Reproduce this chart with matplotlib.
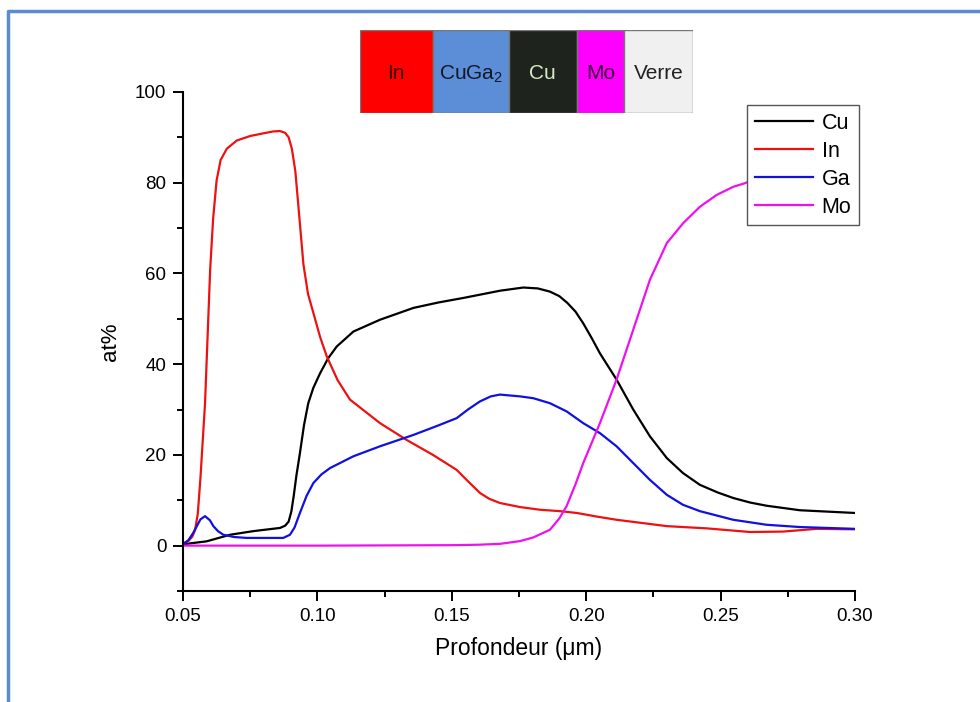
import numpy as np
import matplotlib
matplotlib.use('Agg')
from matplotlib import pyplot as plt
from matplotlib.lines import Line2D

plt.rcParams['font.family'] = ['Liberation Sans', 'DejaVu Sans']
plt.rcParams['mathtext.fontset'] = 'custom'
plt.rcParams['mathtext.rm'] = 'Liberation Sans'

# profils (profondeur en um, at%)
x_cu = [0.050, 0.0588, 0.0675, 0.0762, 0.0861, 0.0880, 0.0893, 0.0903, 0.0912, 0.0922, 0.0935, 0.0950,
        0.0966, 0.0985, 0.1010, 0.1040, 0.1072, 0.1134, 0.1233, 0.1357, 0.1450, 0.1543, 0.1620,
        0.1680, 0.1766, 0.1820, 0.1865, 0.1900, 0.1930, 0.1960, 0.1989, 0.2020, 0.2051, 0.2113,
        0.2175, 0.2237, 0.2300, 0.2360, 0.2423, 0.2490, 0.2547, 0.2610, 0.2671, 0.2795, 0.3000]
cu = [0.3, 0.95, 2.4, 3.2, 3.9, 4.4, 5.3, 7.5, 11.0, 15.5, 20.4, 26.5,
      31.4, 34.8, 38.0, 41.3, 43.9, 47.2, 49.8, 52.4, 53.6, 54.6, 55.5,
      56.2, 56.9, 56.7, 56.0, 55.0, 53.5, 51.6, 49.0, 45.8, 42.4, 36.6,
      30.0, 24.1, 19.3, 16.0, 13.4, 11.7, 10.5, 9.5, 8.8, 7.8, 7.2]

x_in = [0.050, 0.052, 0.0535, 0.0545, 0.0555, 0.0565, 0.0582, 0.0601, 0.0612, 0.0625, 0.0640, 0.0663,
        0.070, 0.075, 0.080, 0.0835, 0.0860, 0.0880, 0.0893, 0.0905, 0.0918, 0.0932, 0.0948, 0.0965,
        0.0985, 0.1010, 0.1035, 0.1075, 0.1121, 0.1233, 0.1332, 0.1430, 0.1518, 0.1560, 0.1605,
        0.1640, 0.1679, 0.1754, 0.1830, 0.1903, 0.1965, 0.2040, 0.2113, 0.2300, 0.2450, 0.2610,
        0.2733, 0.2857, 0.3000]
inn = [0.5, 1.0, 2.0, 3.5, 7.0, 15.0, 31.4, 60.8, 72.0, 80.5, 85.0, 87.5,
       89.3, 90.3, 90.9, 91.3, 91.4, 91.0, 90.0, 87.5, 82.5, 73.0, 62.0, 55.5,
       51.3, 46.0, 41.7, 36.5, 32.2, 27.0, 23.3, 20.0, 16.7, 14.2, 11.6,
       10.3, 9.4, 8.5, 7.9, 7.6, 7.2, 6.4, 5.7, 4.3, 3.8, 3.0,
       3.1, 3.7, 3.6]

x_ga = [0.050, 0.052, 0.0538, 0.0565, 0.0582, 0.0600, 0.0613, 0.0630, 0.0650, 0.0690, 0.0737, 0.0873,
        0.0898, 0.0915, 0.0935, 0.0960, 0.0985, 0.1015, 0.1047, 0.1134, 0.1233, 0.1357, 0.1450,
        0.1518, 0.1560, 0.1605, 0.1645, 0.1679, 0.1754, 0.1803, 0.1865, 0.1927, 0.1989, 0.2051,
        0.2113, 0.2175, 0.2237, 0.2300, 0.2360, 0.2423, 0.2547, 0.2671, 0.2795, 0.3000]
ga = [0.3, 1.2, 2.8, 5.8, 6.5, 5.6, 4.3, 3.2, 2.4, 1.9, 1.7, 1.7,
      2.4, 4.0, 7.2, 11.0, 13.8, 15.7, 17.1, 19.7, 21.9, 24.4, 26.5,
      28.1, 30.0, 31.8, 32.9, 33.3, 32.9, 32.5, 31.4, 29.6, 27.0, 24.8,
      21.9, 18.2, 14.5, 11.2, 9.0, 7.6, 5.7, 4.6, 4.1, 3.7]

x_mo = [0.050, 0.100, 0.150, 0.160, 0.168, 0.1754, 0.1803, 0.1865, 0.1900, 0.1927, 0.1960, 0.1989,
        0.2051, 0.2113, 0.2175, 0.2237, 0.2300, 0.2361, 0.2423, 0.2485, 0.2547, 0.2591, 0.2650,
        0.2750, 0.2850, 0.3000]
mo = [0.0, 0.0, 0.1, 0.2, 0.4, 1.0, 1.8, 3.5, 6.0, 8.7, 13.5, 18.2,
      27.0, 36.6, 47.6, 58.6, 66.7, 71.1, 74.7, 77.3, 79.1, 79.9, 81.5,
      83.0, 84.0, 85.0]

# empilement des couches (bandeau du haut)
couches = ['In', 'CuGa$_2$', 'Cu', 'Mo', 'Verre']
epaisseurs = [72.7, 76.3, 67.7, 47.3, 68.7]
couleurs = ['#ff0000', '#5b8ed6', '#1f231d', '#ff00ff', '#f0f0f0']
couleurs_txt = ['#3a0606', '#111827', '#d4ecc4', '#3d003d', '#222222']

fig = plt.figure(figsize=(9.8, 7.02), dpi=100)
ax = fig.add_axes([183/980, 1-591/702, 672/980, 499/702])

lw = 1.6
ax.plot(x_cu, cu, color='black', lw=lw, label='Cu')
ax.plot(x_in, inn, color='#ee1111', lw=lw, label='In')
ax.plot(x_ga, ga, color='#1010e0', lw=lw, label='Ga')
ax.plot(x_mo, mo, color='#ee11ee', lw=lw, label='Mo')

ax.set_xlim(0.05, 0.30)
ax.set_ylim(-10, 100)
ax.set_xticks(np.arange(0.05, 0.301, 0.05))
ax.set_xticks(np.arange(0.075, 0.30, 0.05), minor=True)
ax.set_xticklabels(['0.05', '0.10', '0.15', '0.20', '0.25', '0.30'])
ax.set_yticks([0, 20, 40, 60, 80, 100])
ax.set_yticks([-10, 10, 30, 50, 70, 90], minor=True)

for s in ['top', 'right']:
    ax.spines[s].set_visible(False)
for s in ['left', 'bottom']:
    ax.spines[s].set_linewidth(1.5)
ax.tick_params(which='major', direction='out', length=7, width=1.4, labelsize=13.5, pad=5)
ax.tick_params(which='minor', direction='out', length=4.5, width=1.4)

ax.set_xlabel('Profondeur (\u03bcm)', fontsize=16.5, labelpad=9)
ax.set_ylabel('at%', fontsize=16, labelpad=10)

leg = ax.legend(loc='upper right', bbox_to_anchor=(1.006, 0.974), fontsize=15.5,
                fancybox=False, framealpha=1, edgecolor='#555555',
                handlelength=2.7, handletextpad=0.4, labelspacing=0.33,
                borderpad=0.35, borderaxespad=0)
leg.get_frame().set_linewidth(1.0)
leg.set_zorder(5)

# bandeau des couches
axb = fig.add_axes([360/980, 1-112.7/702, 332.7/980, 82.7/702])
gauche = 0
for nom, ep, c, ct in zip(couches, epaisseurs, couleurs, couleurs_txt):
    axb.barh(0, ep, left=gauche, height=1, color=c, edgecolor='#777777', linewidth=1)
    axb.text(gauche + ep/2, -0.03, nom, ha='center', va='center', fontsize=15, color=ct)
    gauche += ep
axb.set_xlim(0, sum(epaisseurs))
axb.set_ylim(-0.5, 0.5)
axb.axis('off')

# cadre bleu
fig.add_artist(Line2D([8/980, 8/980, 1.0], [0.0, 1-11/702, 1-11/702],
                      color='#5b8ccf', lw=2.5, transform=fig.transFigure))

fig.savefig('out.png', dpi=100)
